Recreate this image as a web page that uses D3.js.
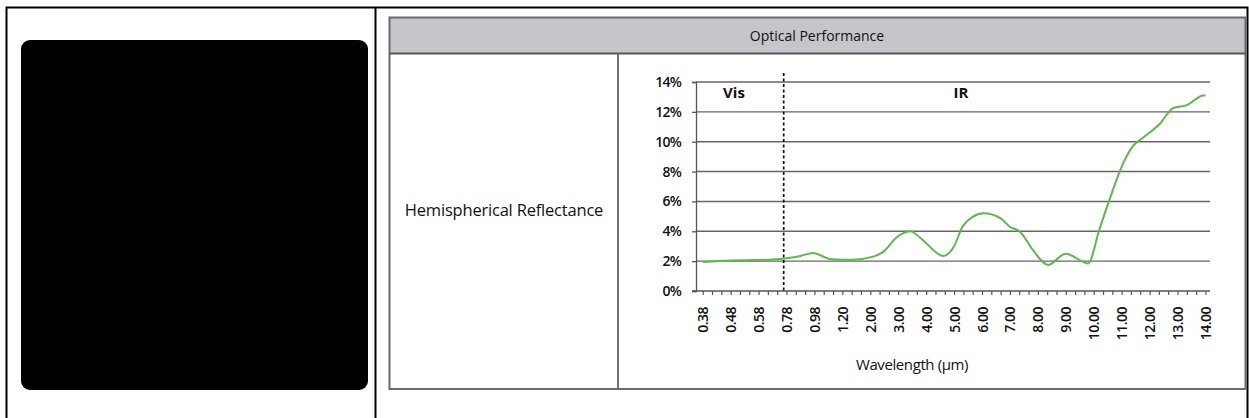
<!DOCTYPE html>
<html>
<head>
<meta charset="utf-8">
<script src="https://cdn.jsdelivr.net/npm/d3@7"></script>
<style>
  html, body { margin: 0; padding: 0; background: #fff; }
  svg { display: block; }
  text { font-family: "Open Sans", "Noto Sans", sans-serif; fill: #111; }
</style>
</head>
<body>
<svg id="chart" width="1249" height="418"></svg>
<script>
// ---------- data ----------
const xLabels = ["0.38","0.48","0.58","0.78","0.98","1.20","2.00","3.00","4.00","5.00","6.00","7.00","8.00","9.00","10.00","11.00","12.00","13.00","14.00"];
const xTickValues = [0.38,0.48,0.58,0.78,0.98,1.2,2,3,4,5,6,7,8,9,10,11,12,13,14];
const yTicks = [0,2,4,6,8,10,12,14];
const wavelength = [0.38,0.45,0.48,0.58,0.70,0.78,0.88,0.97,1.10,1.20,1.50,2.10,2.45,2.95,3.32,3.45,3.67,4.00,4.61,5.00,5.30,5.65,6.05,6.64,7.00,7.36,7.82,8.37,9.00,9.80,10.20,10.60,10.95,11.40,11.75,12.37,12.84,13.34,13.93,14.00];
const reflectance = [1.95,2.02,2.05,2.07,2.12,2.20,2.35,2.55,2.15,2.10,2.10,2.30,2.60,3.60,3.97,4.00,3.75,3.20,2.34,3.00,4.30,4.95,5.20,4.90,4.30,3.97,2.75,1.75,2.50,1.85,4.10,6.30,8.10,9.70,10.25,11.20,12.25,12.45,13.10,13.10];
const visIrBoundary = 0.76;
const titleText = "Optical Performance";
const rowLabel = "Hemispherical Reflectance";
const xTitle = "Wavelength (µm)";

// ---------- layout ----------
const svg = d3.select("#chart");
const plot = { left: 696, right: 1210, top: 82, bottom: 291 };
const firstLabelX = 702.7, labelStep = 27.93;

// outer black frame (open at bottom)
const frame = svg.append("g").attr("stroke", "#000").attr("stroke-width", 2).attr("fill", "none");
frame.append("path").attr("d", "M6.5,418 V7.5 H1247.5 V418");
frame.append("line").attr("x1", 375.5).attr("x2", 375.5).attr("y1", 7.5).attr("y2", 418);

// black image placeholder
svg.append("rect").attr("x", 21).attr("y", 40).attr("width", 347).attr("height", 350)
  .attr("rx", 9).attr("fill", "#000");

// right panel
const panel = svg.append("g");
panel.append("rect").attr("x", 389.5).attr("y", 17.5).attr("width", 856).attr("height", 36)
  .attr("fill", "#c6c6ca");
panel.append("rect").attr("x", 389.5).attr("y", 17.5).attr("width", 856).attr("height", 371.5)
  .attr("fill", "none").attr("stroke", "#6a6a6a").attr("stroke-width", 2);
panel.append("line").attr("x1", 389.5).attr("x2", 1245.5).attr("y1", 53.5).attr("y2", 53.5)
  .attr("stroke", "#555").attr("stroke-width", 2);
panel.append("line").attr("x1", 618).attr("x2", 618).attr("y1", 53.5).attr("y2", 389)
  .attr("stroke", "#707070").attr("stroke-width", 2);
panel.append("text").attr("x", 817).attr("y", 41).attr("text-anchor", "middle")
  .style("font-size", "14px").text(titleText);
panel.append("text").attr("x", 504).attr("y", 216).attr("text-anchor", "middle")
  .style("font-size", "16.5px").style("letter-spacing", "-0.2px").text(rowLabel);

// ---------- scales ----------
const x = d3.scaleLinear()
  .domain(xTickValues)
  .range(xTickValues.map((d, i) => firstLabelX + i * labelStep));
const y = d3.scaleLinear().domain([0, 14]).range([plot.bottom, plot.top]);

// gridlines
svg.append("g").selectAll("line").data(yTicks.filter(d => d > 0)).join("line")
  .attr("x1", plot.left).attr("x2", plot.right)
  .attr("y1", d => y(d)).attr("y2", d => y(d))
  .attr("stroke", "#666").attr("stroke-width", 1.4);

// y axis
const yAxis = svg.append("g").attr("transform", `translate(${plot.left},0)`)
  .call(d3.axisLeft(y).tickValues(yTicks).tickFormat(d => d + "%").tickSize(4).tickPadding(11));
yAxis.select(".domain").attr("stroke", "#555").attr("stroke-width", 1.3);
yAxis.selectAll(".tick line").attr("stroke", "#555").attr("stroke-width", 1.3);
yAxis.selectAll("text").style("font-size", "14px").style("font-weight", "600")
  .style("letter-spacing", "-0.8px").attr("fill", "#111");

// x axis (labelled ticks)
const xAxisG = svg.append("g").attr("transform", `translate(0,${plot.bottom})`);
xAxisG.append("line").attr("x1", plot.left - 4).attr("x2", plot.right)
  .attr("y1", 0).attr("y2", 0).attr("stroke", "#555").attr("stroke-width", 1.3);
const minorVals = [];
for (let i = 0; i < xTickValues.length - 1; i++) {
  const a = xTickValues[i], b = xTickValues[i + 1];
  minorVals.push(a + (b - a) / 3, a + 2 * (b - a) / 3);
}
const xAxis = d3.axisBottom(x).tickValues(xTickValues)
  .tickFormat((d, i) => xLabels[i]).tickSize(4).tickSizeOuter(0);
const xa = xAxisG.append("g").call(xAxis);
xa.select(".domain").remove();
xa.selectAll(".tick line").attr("stroke", "#555").attr("stroke-width", 1.2);
xa.selectAll("text")
  .attr("transform", "rotate(-90)")
  .attr("text-anchor", "end")
  .attr("x", -16).attr("y", 0).attr("dy", "0.36em")
  .style("font-size", "14px").style("font-weight", "600").style("letter-spacing", "-0.5px")
  .attr("fill", "#111");
const xm = xAxisG.append("g").call(d3.axisBottom(x).tickValues(minorVals).tickFormat("").tickSize(4).tickSizeOuter(0));
xm.select(".domain").remove();
xm.selectAll(".tick line").attr("stroke", "#555").attr("stroke-width", 1.2);

svg.append("text").attr("x", 912).attr("y", 370).attr("text-anchor", "middle")
  .style("font-size", "15px").style("letter-spacing", "-0.4px").text(xTitle);

// Vis / IR boundary
svg.append("line")
  .attr("x1", x(visIrBoundary)).attr("x2", x(visIrBoundary))
  .attr("y1", 73).attr("y2", plot.bottom)
  .attr("stroke", "#111").attr("stroke-width", 1.7).attr("stroke-dasharray", "3,2.5");
svg.append("text").attr("x", 734).attr("y", 98).attr("text-anchor", "middle")
  .style("font-size", "15px").style("font-weight", "700").text("Vis");
svg.append("text").attr("x", 961).attr("y", 98).attr("text-anchor", "middle")
  .style("font-size", "15px").style("font-weight", "700").text("IR");

// curve
const pts = wavelength.map((w, i) => [w, reflectance[i]]);
svg.append("path").datum(pts)
  .attr("fill", "none").attr("stroke", "#5eb84e").attr("stroke-width", 2)
  .attr("d", d3.line().x(d => x(d[0])).y(d => y(d[1])).curve(d3.curveMonotoneX));
</script>
</body>
</html>
